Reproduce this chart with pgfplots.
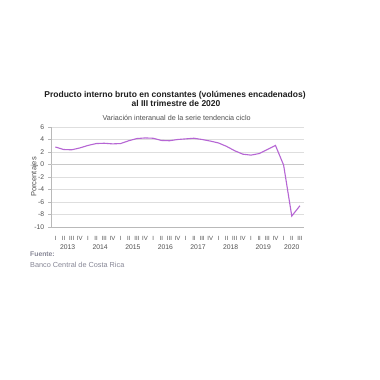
\documentclass[border=0pt]{standalone}
\usepackage{fontspec}
\setmainfont{Liberation Sans}
\usepackage{pgfplots}
\pgfplotsset{compat=1.18}
\definecolor{linec}{RGB}{182,102,212}
\definecolor{gridc}{RGB}{222,222,222}
\definecolor{zeroc}{RGB}{200,200,200}
\definecolor{axisc}{RGB}{185,185,185}
\definecolor{labc}{RGB}{80,80,80}
\definecolor{titc}{RGB}{30,30,30}
\definecolor{srcc}{RGB}{135,135,150}
\begin{document}
\begin{tikzpicture}
\path[use as bounding box, fill=white] (0pt,0pt) rectangle (380pt,380pt);
\node[font=\bfseries\fontsize{8.5}{9}\selectfont, text=titc] at (175pt,285pt) {Producto interno bruto en constantes (volúmenes encadenados)};
\node[font=\bfseries\fontsize{8.5}{9}\selectfont, text=titc] at (176pt,276.3pt) {al III trimestre de 2020};
\node[font=\fontsize{7.2}{8}\selectfont, text=labc] at (176.7pt,262.5pt) {Variación interanual de la serie tendencia ciclo};
\node[font=\bfseries\fontsize{6.8}{7}\selectfont, text=srcc, anchor=west, inner sep=0pt] at (30pt,126pt) {Fuente:};
\node[font=\fontsize{7.3}{8}\selectfont, text=srcc, anchor=west, inner sep=0pt] at (30pt,115pt) {Banco Central de Costa Rica};
\begin{axis}[
  at={(51.3pt,153pt)}, anchor=south west,
  scale only axis, width=252.7pt, height=100pt,
  xmin=-0.5, xmax=30.5, ymin=-10, ymax=6,
  clip=false,
  axis x line*=bottom, axis y line*=left,
  axis line style={draw=axisc, line width=0.6pt},
  ytick={-10,-8,...,6},
  yticklabels={-10,-8,-6,-4,-2,0,2,4,6},
  ymajorgrids, grid style={draw=gridc, line width=0.6pt},
  y tick style={draw=axisc, line width=0.5pt},
  tick align=outside, major tick length=3pt,
  yticklabel style={font=\fontsize{6.8}{7}\selectfont, text=labc, xshift=-0.5pt},
  ylabel={Porcentajes},
  ylabel style={font=\fontsize{7.5}{8}\selectfont, text=labc, at={(rel axis cs:0,0.5)}, anchor=center, yshift=16.8pt},
  xtick={0,...,30},
  xticklabels={I,II,III,IV,I,II,III,IV,I,II,III,IV,I,II,III,IV,I,II,III,IV,I,II,III,IV,I,II,III,IV,I,II,III},
  x tick style={draw=none},
  xticklabel style={font=\fontsize{6}{6}\selectfont, text=labc, yshift=-3pt},
  extra x ticks={-0.5,3.5,7.5,11.5,15.5,19.5,23.5,27.5,30.5},
  extra x tick labels={},
  extra x tick style={tick style={draw=axisc, line width=0.6pt}, major tick length=25pt, tick align=outside, grid=none},
]
\draw[zeroc, line width=0.9pt] (axis cs:-0.5,0) -- (axis cs:30.5,0);
\addplot[linec, line width=1.1pt, mark=none] coordinates {
(0,2.8) (1,2.4) (2,2.35) (3,2.65) (4,3.05) (5,3.35) (6,3.4) (7,3.3)
(8,3.35) (9,3.8) (10,4.15) (11,4.25) (12,4.2) (13,3.85) (14,3.8) (15,4.0)
(16,4.1) (17,4.2) (18,4.0) (19,3.75) (20,3.45) (21,2.9) (22,2.2) (23,1.65)
(24,1.5) (25,1.75) (26,2.4) (27,3.05) (28,-0.1) (29,-8.25) (30,-6.6)
};
\foreach \yr/\xc in {2013/1.5,2014/5.5,2015/9.5,2016/13.5,2017/17.5,2018/21.5,2019/25.5,2020/29} {
  \edef\tmp{\noexpand\node[font=\noexpand\fontsize{6.8}{7}\noexpand\selectfont, text=labc] at (axis cs:\xc,-10) [yshift=-20.3pt] {\yr};}
  \tmp
}
\end{axis}
\end{tikzpicture}
\end{document}
